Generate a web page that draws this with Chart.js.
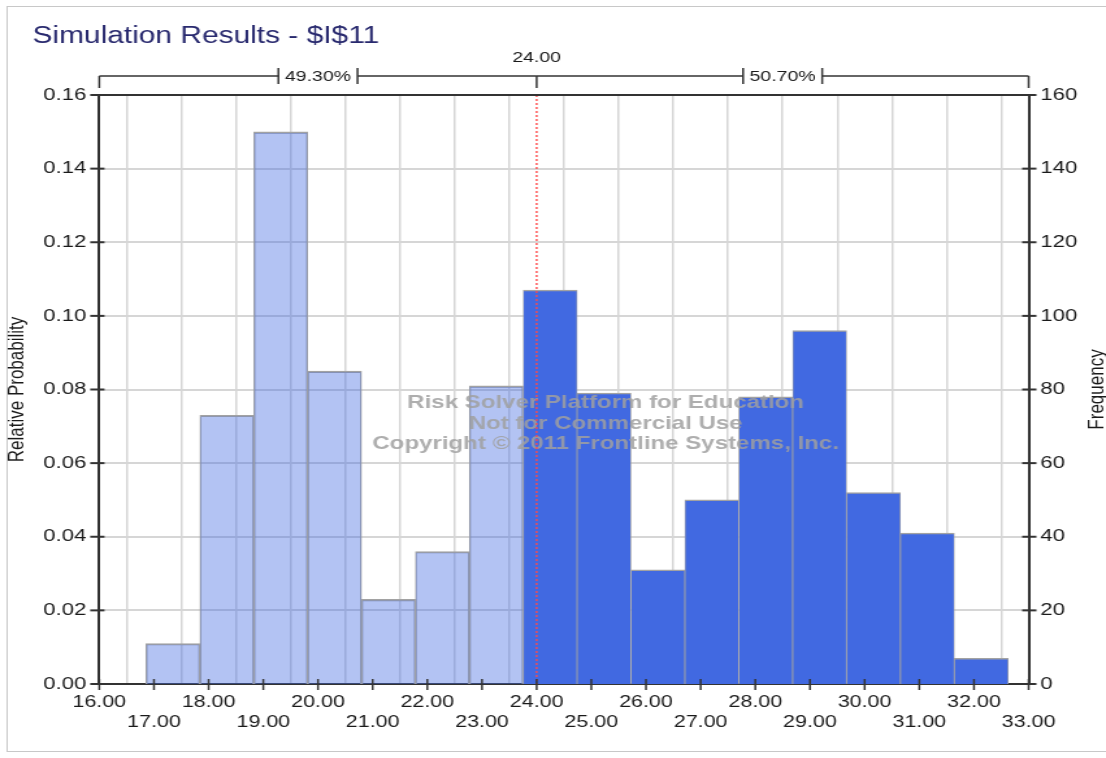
<!DOCTYPE html>
<html>
<head>
<meta charset="utf-8">
<script src="https://cdn.jsdelivr.net/npm/chart.js@4.4.1/dist/chart.umd.min.js"></script>
<style>
  html, body { margin: 0; padding: 0; background: #fff; overflow: hidden; }
  /* the reference is stretched sideways, so the canvas is too */
  #wrap { width: 851px; height: 758px; transform: scaleX(1.2996); transform-origin: 0 0; }
</style>
</head>
<body>
<div id="wrap"><canvas id="simChart" width="851" height="758"></canvas></div>
<script>
const TITLE = "Simulation Results - $I$11";
const binCenters = [17.347, 18.333, 19.319, 20.304, 21.290, 22.276, 23.262, 24.248,
  25.233, 26.219, 27.205, 28.191, 29.177, 30.162, 31.148, 32.134];
const frequency = [11, 73, 150, 85, 23, 36, 81, 107, 79, 31, 50, 78, 96, 52, 41, 7];
const SPLIT = 24.0;
const pctBelow = "49.30%";
const pctAbove = "50.70%";
const watermark = [
  "Risk Solver Platform for Education",
  "Not for Commercial Use",
  "Copyright \u00A9 2011 Frontline Systems, Inc.",
];

const FONT = '"Liberation Sans", Arial, sans-serif';
Chart.defaults.font.family = FONT;
Chart.defaults.color = "#1a1a1a";

const lowBins = [];
const highBins = [];
binCenters.forEach((x, i) => {
  const pt = { x, y: frequency[i] };
  if (x < SPLIT) lowBins.push(pt);
  else highBins.push(pt);
});

function line(ctx, x1, y1, x2, y2) {
  ctx.beginPath();
  ctx.moveTo(x1, y1);
  ctx.lineTo(x2, y2);
  ctx.stroke();
}

const overlay = {
  id: "overlay",
  beforeDraw(chart) {
    const ctx = chart.ctx;
    ctx.save();
    ctx.strokeStyle = "#c8c8c8";
    ctx.lineWidth = 1;
    ctx.strokeRect(5.5, 6.5, 2000, 745);
    ctx.fillStyle = "#28296e";
    ctx.font = "23px " + FONT;
    ctx.textBaseline = "alphabetic";
    ctx.fillText(TITLE, 25, 43);
    ctx.restore();
  },
  afterDraw(chart) {
    const ctx = chart.ctx;
    const { left, right, top, bottom } = chart.chartArea;
    const xs = chart.scales.x;
    const ys = chart.scales.y;
    const yf = chart.scales.yF;
    ctx.save();

    // watermark
    ctx.fillStyle = "rgba(160,160,160,0.85)";
    ctx.font = "bold 18.5px " + FONT;
    ctx.textAlign = "center";
    ctx.textBaseline = "middle";
    watermark.forEach((t, i) => ctx.fillText(t, 466, 403 + i * 20.7));

    // split marker
    const xSplit = xs.getPixelForValue(SPLIT);
    ctx.strokeStyle = "#ff4a4a";
    ctx.lineWidth = 1.4;
    ctx.setLineDash([2, 2]);
    line(ctx, xSplit, top, xSplit, bottom);
    ctx.setLineDash([]);

    // top border of plot box
    ctx.strokeStyle = "#333";
    ctx.lineWidth = 2;
    line(ctx, left, top, right, top);

    // crossing tick marks
    ctx.lineWidth = 1.5;
    xs.ticks.forEach((t, i) => {
      const px = xs.getPixelForTick(i);
      line(ctx, px, bottom - 5, px, bottom + 6);
    });
    ctx.lineWidth = 2;
    ys.ticks.forEach((t, i) => {
      const py = ys.getPixelForTick(i);
      line(ctx, left - 7, py, left + 4, py);
    });
    yf.ticks.forEach((t, i) => {
      const py = yf.getPixelForTick(i);
      line(ctx, right - 5, py, right + 6, py);
    });

    // bracket above the plot
    const x0 = xs.getPixelForValue(xs.min);
    const x1 = xs.getPixelForValue(xs.max);
    const yb = 76;
    ctx.lineWidth = 1.5;
    ctx.strokeStyle = "#333";
    ctx.font = "15px " + FONT;
    ctx.fillStyle = "#1a1a1a";
    line(ctx, x0, yb, x0, yb + 12);
    line(ctx, x1, yb, x1, yb + 12);
    line(ctx, xSplit, yb, xSplit, yb + 12);
    const segments = [[x0, xSplit, pctBelow], [xSplit, x1, pctAbove]];
    segments.forEach(([a, b, label]) => {
      const mid = (a + b) / 2;
      const half = ctx.measureText(label).width / 2 + 5;
      line(ctx, a, yb, mid - half, yb);
      line(ctx, mid + half, yb, b, yb);
      line(ctx, mid - half, yb - 8, mid - half, yb + 8);
      line(ctx, mid + half, yb - 8, mid + half, yb + 8);
      ctx.fillText(label, mid, yb + 1);
    });
    ctx.fillText(SPLIT.toFixed(2), xSplit, 57.5);

    // right axis title, reading upward
    ctx.translate(844, (top + bottom) / 2);
    ctx.rotate(-Math.PI / 2);
    ctx.font = "17px " + FONT;
    ctx.fillText("Frequency", 0, 0);
    ctx.restore();
  },
};

const barStyle = {
  borderColor: "#a2a2a2",
  borderWidth: { top: 1.5, left: 0.8, right: 0.8, bottom: 0 },
  barPercentage: 1,
  categoryPercentage: 1,
  grouped: false,
  yAxisID: "yF",
};

new Chart(document.getElementById("simChart"), {
  type: "bar",
  data: {
    datasets: [
      { label: "Below", data: lowBins, backgroundColor: "rgba(65,105,225,0.4)", ...barStyle },
      { label: "Above", data: highBins, backgroundColor: "#4169e1", ...barStyle },
    ],
  },
  options: {
    responsive: false,
    animation: false,
    layout: { padding: { top: 95, left: 0, right: 0, bottom: 0 } },
    plugins: { legend: { display: false }, tooltip: { enabled: false } },
    scales: {
      x: {
        type: "linear",
        min: 16,
        max: 33,
        offset: false,
        z: 1,
        grid: { color: "#d6d6d6", lineWidth: 1.5, drawTicks: false },
        border: { color: "#333", width: 2 },
        ticks: {
          stepSize: 1,
          autoSkip: false,
          maxRotation: 0,
          padding: 8,
          font: { size: 16.5, lineHeight: 1.22 },
          callback: (v) => (v % 2 === 0 ? [v.toFixed(2), ""] : ["", v.toFixed(2)]),
        },
        afterFit: (s) => { s.height = 74; },
      },
      y: {
        position: "left",
        min: 0,
        max: 0.16,
        z: 1,
        grid: { color: "#d6d6d6", lineWidth: 2, drawTicks: false },
        border: { color: "#333", width: 2 },
        ticks: { stepSize: 0.02, padding: 10, font: { size: 17 }, callback: (v) => v.toFixed(2) },
        title: { display: true, text: "Relative Probability", font: { size: 17 }, padding: { top: 3, bottom: 0 } },
        afterFit: (s) => { s.width = 76.4; },
      },
      yF: {
        position: "right",
        min: 0,
        max: 160,
        z: 1,
        grid: { display: false, drawTicks: false },
        border: { color: "#333", width: 2 },
        ticks: { stepSize: 20, padding: 9, font: { size: 17 } },
        afterFit: (s) => { s.width = 59.5; },
      },
    },
  },
  plugins: [overlay],
});
</script>
</body>
</html>
